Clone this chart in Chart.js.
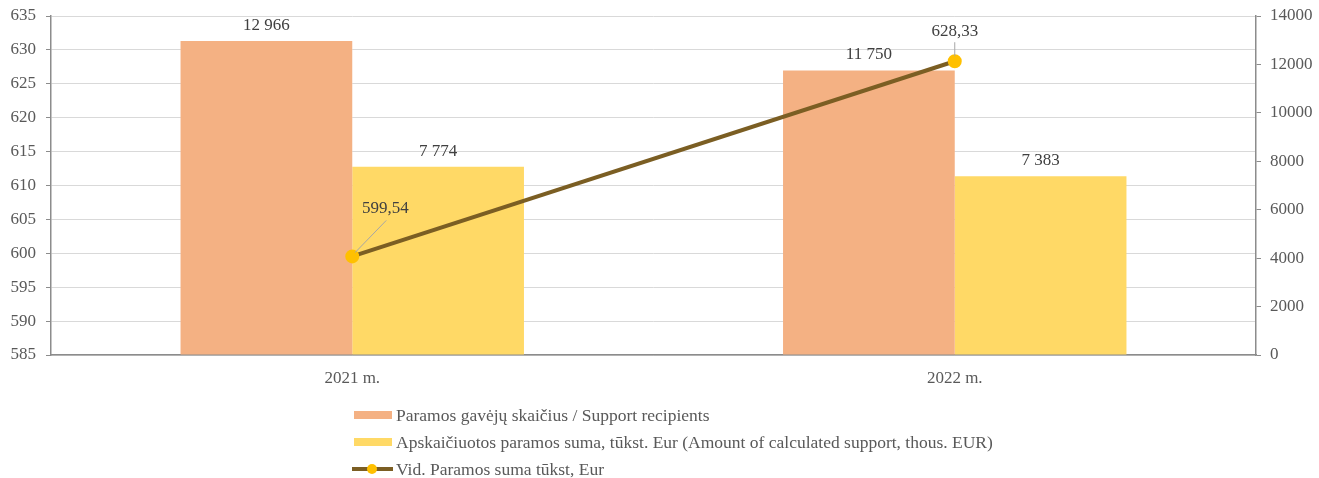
<!DOCTYPE html>
<html>
<head>
<meta charset="utf-8">
<script src="https://cdn.jsdelivr.net/npm/chart.js@4/dist/chart.umd.min.js"></script>
<style>
  html, body { margin: 0; padding: 0; background: #fff; }
  #wrap { width: 1319px; height: 478px; }
</style>
</head>
<body>
<div id="wrap"><canvas id="chart" width="1319" height="478"></canvas></div>
<script>
// data
var years = ['2021 m.', '2022 m.'];
var recipients = [12966, 11750];
var supportSum = [7774, 7383];
var avgSupport = [599.54, 628.33];

var leftTicks = [585, 635, 5];
var rightTicks = [0, 14000, 2000];

var labelRecipients = 'Paramos gavėjų skaičius / Support recipients';
var labelSupport = 'Apskaičiuotos paramos suma, tūkst. Eur (Amount of calculated support, thous. EUR)';
var labelAvg = 'Vid. Paramos suma tūkst, Eur';

var FONT = '"Liberation Serif", "Times New Roman", serif';
var TXT = '#595959';

function fmtInt(v) {
  return String(v).replace(/\B(?=(\d{3})+(?!\d))/g, ' ');
}
function fmtDec(v) {
  return v.toFixed(2).replace('.', ',');
}

// value labels + legend drawn on canvas
var labelsPlugin = {
  id: 'labels',
  afterDatasetsDraw: function (chart) {
    var ctx = chart.ctx;
    ctx.save();
    ctx.font = '17px ' + FONT;
    ctx.fillStyle = '#404040';
    ctx.textAlign = 'center';
    ctx.textBaseline = 'bottom';
    [0, 1].forEach(function (di) {
      var meta = chart.getDatasetMeta(di);
      meta.data.forEach(function (bar, i) {
        ctx.fillText(fmtInt(chart.data.datasets[di].data[i]), bar.x, bar.y - 7);
      });
    });
    // line labels with leader lines
    var lm = chart.getDatasetMeta(2);
    var p0 = lm.data[0], p1 = lm.data[1];
    ctx.strokeStyle = '#a6a6a6';
    ctx.lineWidth = 1;
    ctx.beginPath();
    ctx.moveTo(p0.x + 2, p0.y - 3);
    ctx.lineTo(p0.x + 34, p0.y - 36);
    ctx.moveTo(p1.x, p1.y - 5);
    ctx.lineTo(p1.x, p1.y - 19);
    ctx.stroke();
    ctx.textBaseline = 'middle';
    ctx.fillText(fmtDec(avgSupport[0]), p0.x + 33, p0.y - 48);
    ctx.fillText(fmtDec(avgSupport[1]), p1.x, p1.y - 30);
    // redraw markers above leader lines
    ctx.fillStyle = '#FFC000';
    [p0, p1].forEach(function (p) {
      ctx.beginPath();
      ctx.arc(p.x, p.y, 5, 0, Math.PI * 2);
      ctx.fill();
    });
    ctx.restore();
  },
  afterDraw: function (chart) {
    var ctx = chart.ctx;
    var ds = chart.data.datasets;
    var x0 = 354, rows = [415, 442, 469];
    ctx.save();
    ctx.font = '17.5px ' + FONT;
    ctx.textBaseline = 'middle';
    ctx.textAlign = 'left';
    ctx.fillStyle = ds[0].backgroundColor;
    ctx.fillRect(x0, rows[0] - 4, 38, 8);
    ctx.fillStyle = ds[1].backgroundColor;
    ctx.fillRect(x0, rows[1] - 4, 38, 8);
    ctx.strokeStyle = ds[2].borderColor;
    ctx.lineWidth = 4;
    ctx.beginPath();
    ctx.moveTo(x0 - 2, rows[2]);
    ctx.lineTo(x0 + 39, rows[2]);
    ctx.stroke();
    ctx.fillStyle = '#FFC000';
    ctx.beginPath();
    ctx.arc(x0 + 18, rows[2], 5, 0, Math.PI * 2);
    ctx.fill();
    ctx.fillStyle = TXT;
    ctx.fillText(ds[0].label, x0 + 42, rows[0] + 1);
    ctx.fillText(ds[1].label, x0 + 42, rows[1] + 1);
    ctx.fillText(ds[2].label, x0 + 42, rows[2] + 1);
    ctx.restore();
  }
};

function fitY(width) {
  return function (s) {
    s.width = width;
    s.paddingTop = 0;
    s.paddingBottom = 0;
  };
}

new Chart(document.getElementById('chart'), {
  type: 'bar',
  data: {
    labels: years,
    datasets: [{
      label: labelRecipients,
      data: recipients,
      backgroundColor: '#F4B183',
      yAxisID: 'yRight',
      order: 1,
      categoryPercentage: 0.57,
      barPercentage: 1
    }, {
      label: labelSupport,
      data: supportSum,
      backgroundColor: '#FFD966',
      yAxisID: 'yRight',
      order: 1,
      categoryPercentage: 0.57,
      barPercentage: 1
    }, {
      type: 'line',
      label: labelAvg,
      data: avgSupport,
      borderColor: '#7B5E23',
      borderWidth: 4,
      backgroundColor: '#FFC000',
      pointBackgroundColor: '#FFC000',
      pointBorderColor: '#FFC000',
      pointRadius: 5,
      yAxisID: 'yLeft',
      order: 0,
      tension: 0
    }]
  },
  options: {
    responsive: false,
    animation: false,
    layout: { padding: { top: 16, bottom: 83, left: 0, right: 0 } },
    plugins: {
      legend: { display: false },
      tooltip: { enabled: false }
    },
    scales: {
      x: {
        grid: { display: true, color: 'rgba(0,0,0,0)', drawTicks: false },
        border: { display: true, color: '#8c8c8c', width: 1.5 },
        ticks: { color: TXT, font: { family: FONT, size: 17 }, padding: 13 },
        afterFit: function (s) { s.height = 40; s.paddingLeft = 0; s.paddingRight = 0; }
      },
      yLeft: {
        position: 'left',
        min: leftTicks[0], max: leftTicks[1],
        ticks: { stepSize: leftTicks[2], color: TXT, font: { family: FONT, size: 17 }, padding: 10 },
        grid: { color: '#d9d9d9', lineWidth: 1, tickColor: '#8c8c8c', tickLength: 5 },
        border: { color: '#8c8c8c', width: 1.5 },
        afterFit: fitY(51)
      },
      yRight: {
        position: 'right',
        min: rightTicks[0], max: rightTicks[1],
        ticks: {
          stepSize: rightTicks[2], color: TXT, font: { family: FONT, size: 17 }, padding: 9,
          callback: function (v) { return String(v); }
        },
        grid: { drawOnChartArea: false, tickColor: '#8c8c8c', tickLength: 5 },
        border: { color: '#8c8c8c', width: 1.5 },
        afterFit: fitY(63)
      }
    }
  },
  plugins: [labelsPlugin]
});
</script>
</body>
</html>
